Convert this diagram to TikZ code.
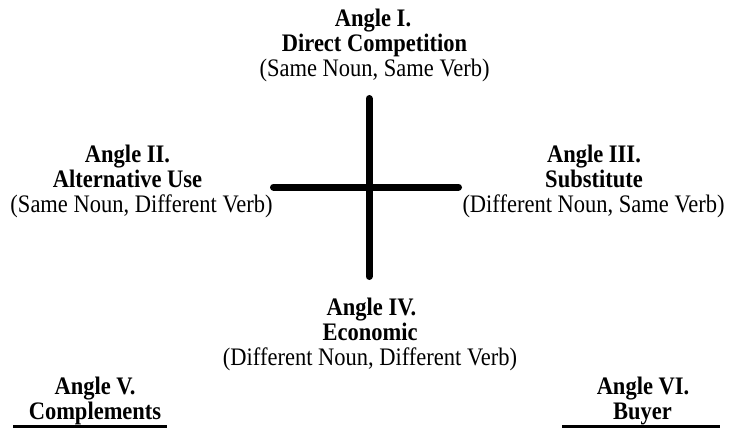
\documentclass[tikz,border=0pt]{standalone}
\usepackage{fontspec}
\setmainfont{Liberation Serif}
\begin{document}
\begin{tikzpicture}[x=1pt,y=-1pt,
  every node/.style={inner sep=0pt,outer sep=0pt,anchor=base,yscale=1.12,transform shape,font=\fontsize{22.5}{25}\selectfont},
  ttl/.style={font=\fontsize{22.5}{25}\selectfont\bfseries},
  sub/.style={},
  crossline/.style={line width=7pt,line cap=round},
  uline/.style={line width=3pt}]
\useasboundingbox (0,0) rectangle (729,428);
% Angle I
\node[ttl] (a1) at (373,27) {Angle I.};
\node[ttl] (a1b) at (374.5,52) {Direct Competition};
\node[sub] (a1c) at (374.5,77) {(Same Noun, Same Verb)};
% Angle II
\node[ttl] (a2) at (127.5,162) {Angle II.};
\node[ttl] (a2b) at (127.5,187) {Alternative Use};
\node[sub] (a2c) at (141.5,212) {(Same Noun, Different Verb)};
% Angle III
\node[ttl] (a3) at (594,162) {Angle III.};
\node[ttl] (a3b) at (594,187) {Substitute};
\node[sub] (a3c) at (593.5,212) {(Different Noun, Same Verb)};
% Angle IV
\node[ttl] (a4) at (371.5,315) {Angle IV.};
\node[ttl] (a4b) at (370,340) {Economic};
\node[sub] (a4c) at (370,365) {(Different Noun, Different Verb)};
% Angle V
\node[ttl] (a5) at (95,394) {Angle V.};
\node[ttl] (a5b) at (95,419) {Complements};
% Angle VI
\node[ttl] (a6) at (643,394) {Angle VI.};
\node[ttl] (a6b) at (642.5,419) {Buyer};
% cross
\coordinate (vt) at (369,98.5);
\coordinate (vb) at (369,276.5);
\coordinate (hl) at (273.5,187);
\coordinate (hr) at (458.5,187);
\draw[crossline] (vt) -- (vb);
\draw[crossline] (hl) -- (hr);
% underlines
\coordinate (u5l) at (13,426.5);
\coordinate (u5r) at (167,426.5);
\coordinate (u6l) at (562,426.5);
\coordinate (u6r) at (720,426.5);
\draw[uline] (u5l) -- (u5r);
\draw[uline] (u6l) -- (u6r);
\end{tikzpicture}
\end{document}
